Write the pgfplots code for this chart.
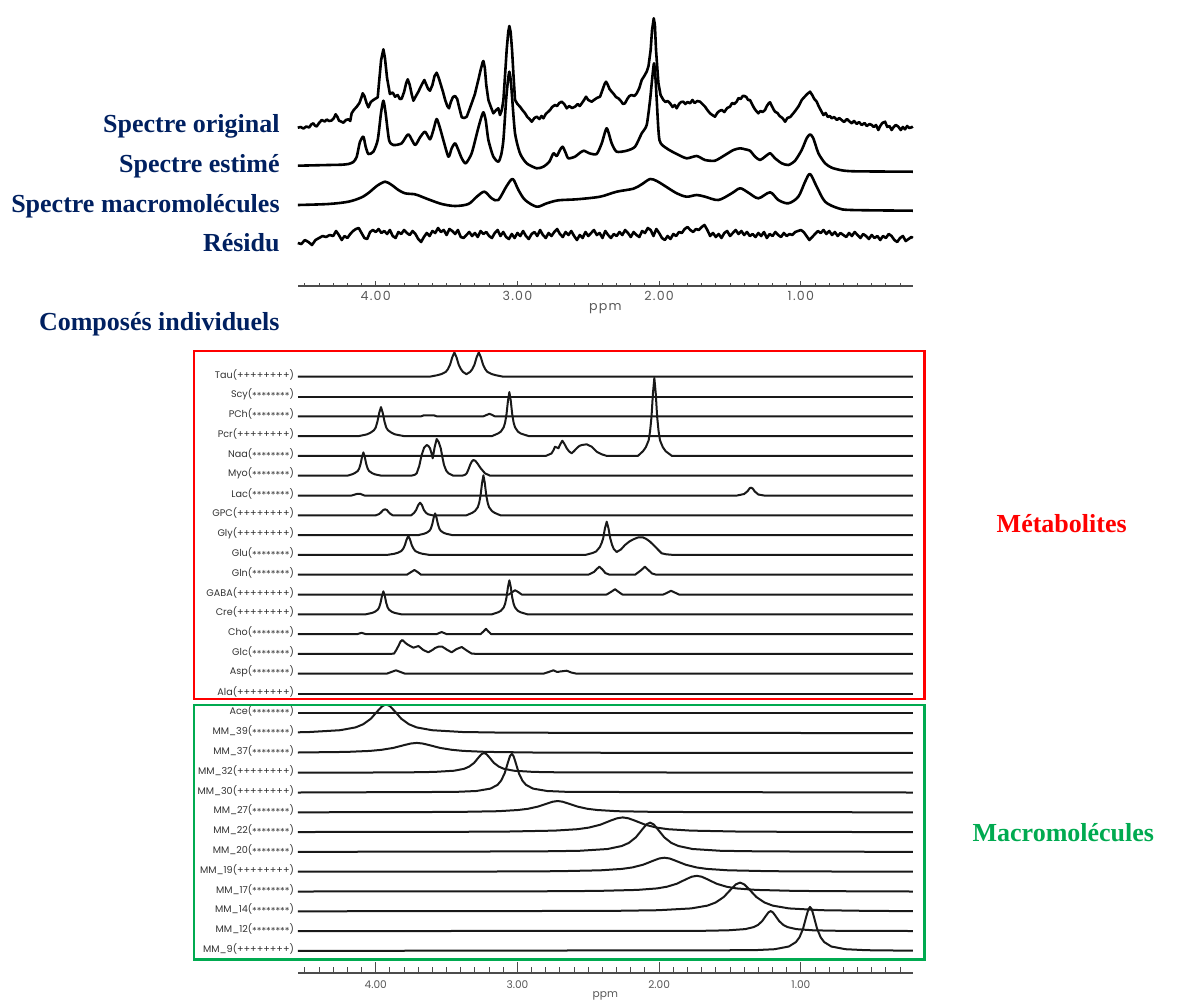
\documentclass[border=0pt]{standalone}
\usepackage{fontspec}
\setmainfont{Liberation Serif}
\newfontfamily\pop{Poppins}
\newfontfamily\popw[LetterSpace=10]{Poppins}
\usepackage{graphicx}
\usepackage{pgfplots}
\pgfplotsset{compat=1.18}
\definecolor{cnavy}{RGB}{0,32,96}
\definecolor{mred}{RGB}{255,0,0}
\definecolor{mgreen}{RGB}{0,170,80}
\newcommand{\pp}{(++++++++)}
\newcommand{\st}{(\raisebox{-0.3ex}{********})}
\newcommand{\bl}[1]{{\fontsize{13}{15}\selectfont\bfseries #1}}
\begin{document}
\begin{tikzpicture}
\useasboundingbox (0,0) rectangle (588.5pt,-500.5pt);
% ---------------- top spectra ----------------
\begin{axis}[at={(148.9pt,-142.85pt)}, anchor=south west, scale only axis,
  width=307.5pt, height=142.85pt, xmin=0.21, xmax=4.55, x dir=reverse,
  ymin=-285.7, ymax=0, axis y line=none, axis x line*=bottom, clip=false,
  xtick={1,2,3,4}, xticklabels={1.00,2.00,3.00,4.00},
  minor xtick={0.3,0.4,0.5,0.6,0.7,0.8,0.9,1.1,1.2,1.3,1.4,1.5,1.6,1.7,1.8,1.9,2.1,2.2,2.3,2.4,2.5,2.6,2.7,2.8,2.9,3.1,3.2,3.3,3.4,3.5,3.6,3.7,3.8,3.9,4.1,4.2,4.3,4.4,4.5},
  tick align=inside, major tick length=2.4pt, minor tick length=1.3pt,
  tick style={black!70, line width=0.5pt}, axis line style={black!70, line width=0.8pt},
  xticklabel style={font=\popw\fontsize{6.3}{7}\selectfont, text=black!65, anchor=center, yshift=-5pt},
  xlabel={ppm}, xlabel style={font=\popw\fontsize{6.3}{7}\selectfont, text=black!65, at={(axis description cs:0.5,0)}, anchor=center, yshift=-11.3pt},
  every axis plot/.append style={black, line width=1.3pt, line join=round, no markers, solid}]
% original
\addplot[sharp plot] coordinates {(4.55,-127.7)(4.53,-127.0)(4.51,-128.5)(4.49,-126.5)(4.47,-127.5)(4.455,-124.5)(4.44,-123.3)(4.43,-125.5)(4.417,-126.5)(4.40,-123)(4.381,-120)(4.36,-121.5)(4.345,-119.5)(4.33,-121)(4.311,-120.5)(4.295,-118)(4.283,-114.3)(4.27,-117)(4.259,-120.7)(4.245,-121.5)(4.228,-122.7)(4.21,-120)(4.193,-119.3)(4.18,-121)(4.17,-113.3)(4.155,-110)(4.134,-106.7)(4.115,-103)(4.10,-97)(4.092,-93.3)(4.08,-96)(4.065,-103)(4.052,-107.3)(4.035,-102)(4.017,-100)(4.00,-98.5)(3.986,-97.3)(3.975,-80)(3.962,-60)(3.946,-49.3)(3.935,-58)(3.92,-78)(3.90,-94)(3.88,-92.5)(3.864,-96.7)(3.845,-95)(3.83,-99)(3.817,-98.7)(3.80,-92)(3.785,-83)(3.774,-79.3)(3.76,-85)(3.745,-95)(3.734,-100.7)(3.72,-97)(3.699,-91.7)(3.68,-86)(3.665,-82)(3.657,-80)(3.645,-84)(3.63,-89)(3.617,-90.7)(3.60,-85)(3.585,-76)(3.57,-72.7)(3.555,-78)(3.54,-85)(3.525,-92)(3.51,-100)(3.495,-106)(3.483,-108.3)(3.47,-102)(3.455,-97)(3.44,-96)(3.425,-99)(3.41,-108)(3.393,-117.3)(3.375,-118)(3.358,-116.7)(3.34,-110)(3.323,-103.3)(3.30,-94)(3.29,-88)(3.276,-80)(3.26,-70)(3.245,-62)(3.24,-61)(3.23,-68)(3.22,-85)(3.205,-100)(3.19,-106)(3.17,-113.3)(3.15,-110)(3.135,-108.3)(3.123,-115)(3.11,-110)(3.099,-100)(3.085,-70)(3.076,-50)(3.065,-32)(3.057,-26)(3.048,-32)(3.038,-50)(3.028,-75)(3.017,-100)(3.00,-104)(2.982,-106.7)(2.965,-110)(2.946,-113.3)(2.93,-117)(2.915,-119)(2.899,-121.7)(2.88,-118)(2.864,-116.7)(2.845,-119)(2.83,-116)(2.817,-118.3)(2.80,-114)(2.785,-112)(2.77,-110)(2.755,-107)(2.735,-105)(2.72,-106)(2.705,-103)(2.688,-101.7)(2.67,-104)(2.652,-108.3)(2.635,-106)(2.615,-108)(2.594,-106.7)(2.575,-104)(2.56,-106)(2.546,-103.3)(2.53,-100)(2.516,-96.7)(2.50,-100)(2.476,-101.7)(2.46,-100)(2.44,-98)(2.417,-96.7)(2.40,-90)(2.385,-84)(2.375,-81.7)(2.365,-84)(2.35,-89)(2.335,-91.7)(2.32,-94)(2.305,-97)(2.288,-98.3)(2.27,-101)(2.255,-104)(2.241,-103.3)(2.225,-99)(2.21,-96)(2.194,-95)(2.175,-96)(2.158,-93.3)(2.14,-88)(2.123,-80)(2.105,-76)(2.088,-71.7)(2.075,-66)(2.06,-50)(2.05,-30)(2.038,-18.3)(2.03,-25)(2.022,-50)(2.012,-70)(2.005,-83.3)(1.99,-95)(1.97,-100)(1.955,-102)(1.94,-101)(1.923,-103.3)(1.905,-107)(1.89,-105)(1.876,-108.3)(1.86,-104)(1.845,-102)(1.829,-101.7)(1.815,-104)(1.80,-102)(1.782,-103.3)(1.765,-100)(1.75,-103)(1.73,-101)(1.711,-101.7)(1.695,-104)(1.676,-106.7)(1.66,-110)(1.641,-113.3)(1.625,-115)(1.606,-116.7)(1.59,-113)(1.575,-111)(1.558,-110)(1.54,-112)(1.52,-108)(1.50,-106.7)(1.485,-103)(1.47,-104)(1.453,-101.7)(1.44,-98)(1.425,-99)(1.41,-96)(1.398,-96)(1.385,-97)(1.372,-100)(1.359,-100)(1.345,-104)(1.33,-108)(1.315,-111)(1.30,-113.3)(1.285,-111)(1.27,-112)(1.253,-110)(1.24,-106)(1.225,-103)(1.217,-102.3)(1.205,-106)(1.19,-110)(1.182,-111.7)(1.165,-113)(1.15,-116)(1.13,-118)(1.111,-121.7)(1.095,-118)(1.075,-117)(1.053,-113.3)(1.035,-110)(1.015,-106)(0.994,-100)(0.975,-97)(0.955,-94)(0.935,-91.7)(0.92,-95)(0.905,-99)(0.888,-101.7)(0.875,-106)(0.86,-110)(0.841,-115)(0.825,-113)(0.81,-117)(0.795,-116)(0.782,-118.3)(0.765,-117)(0.745,-120)(0.73,-118)(0.712,-120)(0.695,-122)(0.675,-119)(0.66,-121)(0.641,-123.3)(0.625,-121)(0.605,-124)(0.59,-122)(0.57,-125)(0.55,-123)(0.535,-126)(0.515,-124)(0.50,-125)(0.485,-127)(0.47,-125)(0.453,-130)(0.44,-126)(0.425,-123)(0.406,-121.7)(0.39,-127)(0.375,-126)(0.359,-130)(0.345,-127)(0.33,-125)(0.312,-126.7)(0.295,-130)(0.28,-127)(0.265,-129.3)(0.25,-126)(0.235,-128)(0.218,-127.3)(0.21,-126.5)};
% estimated
\addplot[smooth, tension=0.4] coordinates {(4.55,-165.7)(4.428,-165.3)(4.334,-165)(4.24,-164.7)(4.193,-164)(4.158,-162)(4.134,-156.7)(4.111,-141.7)(4.087,-136.7)(4.071,-146.7)(4.052,-154)(4.017,-151.7)(3.986,-140)(3.963,-113.3)(3.946,-100.7)(3.93,-113.3)(3.906,-140)(3.876,-145)(3.817,-143.3)(3.77,-134.3)(3.723,-145)(3.687,-137.3)(3.652,-131.7)(3.617,-139.3)(3.593,-130)(3.57,-119)(3.546,-128.3)(3.523,-140)(3.487,-156.7)(3.464,-148.3)(3.44,-143.3)(3.417,-150)(3.393,-158.3)(3.365,-163.3)(3.323,-153.3)(3.28,-130)(3.257,-118.3)(3.24,-112.3)(3.224,-120)(3.205,-140)(3.17,-156.7)(3.135,-161.7)(3.115,-155)(3.099,-140)(3.08,-100)(3.068,-82)(3.057,-71.7)(3.046,-82)(3.038,-96.7)(3.017,-133.3)(2.982,-153.3)(2.935,-163.3)(2.864,-168.3)(2.817,-166.7)(2.775,-161.7)(2.746,-153.3)(2.723,-156)(2.70,-150)(2.681,-146.7)(2.66,-152.7)(2.641,-158.3)(2.594,-156.7)(2.558,-152.7)(2.53,-150.7)(2.492,-153.3)(2.441,-154)(2.405,-143.3)(2.37,-128.3)(2.335,-143.3)(2.30,-151.7)(2.229,-150.7)(2.17,-146.7)(2.123,-133.3)(2.088,-125)(2.064,-100)(2.05,-80)(2.036,-63.3)(2.025,-80)(2.017,-100)(1.998,-140)(1.947,-148.3)(1.876,-154)(1.806,-158.3)(1.735,-156)(1.676,-160)(1.606,-160.7)(1.535,-155)(1.476,-150)(1.429,-148.3)(1.394,-149.3)(1.359,-150.7)(1.323,-156.7)(1.288,-160)(1.253,-156.7)(1.217,-153.3)(1.182,-158.3)(1.135,-163.3)(1.088,-165)(1.041,-160.7)(0.994,-150)(0.959,-138.3)(0.935,-134.3)(0.912,-138.3)(0.876,-153.3)(0.829,-163.3)(0.782,-167.7)(0.712,-170.3)(0.618,-171.3)(0.21,-171.7)};
% macromolecules
\addplot[smooth, tension=0.5] coordinates {(4.55,-205)(4.334,-204)(4.193,-201.7)(4.099,-197.3)(4.04,-191.7)(3.993,-186)(3.934,-181.7)(3.887,-185)(3.84,-190)(3.793,-193.3)(3.723,-194.3)(3.676,-196.7)(3.629,-199.3)(3.534,-204)(3.44,-206)(3.346,-204)(3.287,-196.7)(3.233,-191.7)(3.182,-198.3)(3.135,-200)(3.076,-186)(3.033,-179)(2.993,-190)(2.946,-200)(2.864,-206.7)(2.793,-203.3)(2.711,-200.3)(2.582,-199.3)(2.417,-196.7)(2.30,-191.7)(2.182,-188.7)(2.123,-184.3)(2.064,-179)(2.017,-181)(1.97,-185)(1.876,-193.3)(1.806,-196.7)(1.735,-195)(1.676,-196.7)(1.582,-200)(1.488,-193.3)(1.429,-188.3)(1.37,-192.7)(1.30,-198.3)(1.217,-192.3)(1.159,-200)(1.088,-203.3)(1.018,-196.7)(0.97,-181.7)(0.935,-174)(0.888,-186.7)(0.829,-201.7)(0.735,-208.3)(0.641,-210)(0.21,-210.7)};
% residual
\addplot[sharp plot] coordinates {(4.55,-243)(4.525,-244)(4.50,-240)(4.475,-242)(4.45,-245)(4.425,-240)(4.40,-238)(4.375,-236)(4.35,-237)(4.325,-235)(4.30,-236)(4.28,-231)(4.26,-235)(4.24,-240)(4.22,-236)(4.20,-238)(4.18,-234)(4.16,-231)(4.14,-229)(4.12,-228)(4.10,-233)(4.08,-238)(4.06,-239)(4.04,-232)(4.02,-230)(4.00,-232)(3.98,-229)(3.96,-233)(3.94,-231)(3.92,-234)(3.90,-230)(3.88,-236)(3.86,-238)(3.84,-232)(3.82,-234)(3.80,-230)(3.78,-233)(3.76,-235)(3.74,-231)(3.72,-234)(3.70,-239)(3.68,-242)(3.66,-237)(3.64,-233)(3.62,-236)(3.60,-231)(3.58,-233)(3.56,-228)(3.54,-232)(3.52,-230)(3.50,-235)(3.48,-229)(3.46,-231)(3.44,-234)(3.42,-230)(3.40,-237)(3.38,-238)(3.36,-235)(3.34,-232)(3.32,-236)(3.30,-233)(3.28,-237)(3.26,-231)(3.24,-234)(3.22,-232)(3.20,-236)(3.18,-238)(3.16,-233)(3.14,-230)(3.12,-236)(3.10,-232)(3.08,-237)(3.06,-239)(3.04,-234)(3.02,-238)(3.00,-233)(2.98,-236)(2.96,-231)(2.94,-236)(2.92,-239)(2.90,-234)(2.88,-232)(2.86,-236)(2.84,-230)(2.82,-235)(2.80,-238)(2.78,-233)(2.76,-236)(2.74,-232)(2.72,-229)(2.70,-234)(2.68,-237)(2.66,-232)(2.64,-235)(2.62,-231)(2.60,-236)(2.58,-240)(2.56,-235)(2.54,-238)(2.52,-232)(2.50,-236)(2.48,-233)(2.46,-230)(2.44,-235)(2.42,-233)(2.40,-238)(2.38,-231)(2.36,-235)(2.34,-238)(2.32,-234)(2.30,-236)(2.28,-232)(2.26,-235)(2.24,-230)(2.22,-233)(2.20,-237)(2.18,-232)(2.16,-235)(2.14,-237)(2.12,-231)(2.10,-233)(2.08,-228)(2.06,-230)(2.04,-236)(2.02,-229)(2.00,-233)(1.98,-238)(1.96,-240)(1.94,-236)(1.92,-239)(1.90,-234)(1.88,-236)(1.86,-232)(1.84,-233)(1.82,-229)(1.80,-227)(1.78,-230)(1.76,-232)(1.74,-229)(1.72,-230)(1.70,-227)(1.68,-225)(1.66,-230)(1.64,-236)(1.62,-233)(1.60,-237)(1.58,-234)(1.56,-238)(1.54,-233)(1.52,-231)(1.50,-236)(1.48,-233)(1.46,-230)(1.44,-234)(1.42,-231)(1.40,-235)(1.38,-232)(1.36,-236)(1.34,-234)(1.32,-237)(1.30,-233)(1.28,-236)(1.26,-232)(1.24,-238)(1.22,-234)(1.20,-236)(1.18,-232)(1.16,-235)(1.14,-237)(1.12,-233)(1.10,-236)(1.08,-234)(1.06,-235)(1.04,-232)(1.02,-231)(1.00,-230)(0.98,-232)(0.96,-236)(0.94,-240)(0.92,-237)(0.90,-234)(0.88,-231)(0.86,-233)(0.84,-230)(0.82,-234)(0.80,-231)(0.78,-235)(0.76,-232)(0.74,-236)(0.72,-233)(0.70,-235)(0.68,-237)(0.66,-233)(0.64,-236)(0.62,-232)(0.60,-235)(0.58,-238)(0.56,-234)(0.54,-236)(0.52,-239)(0.50,-235)(0.48,-238)(0.46,-236)(0.44,-240)(0.42,-236)(0.40,-238)(0.38,-234)(0.36,-236)(0.34,-240)(0.32,-242)(0.30,-238)(0.28,-236)(0.26,-241)(0.24,-239)(0.22,-237)(0.21,-238)};
\end{axis}
% ---------------- individual compounds ----------------
\begin{axis}[at={(148.9pt,-486.35pt)}, anchor=south west, scale only axis,
  width=307.5pt, height=313.85pt, xmin=0.21, xmax=4.55, x dir=reverse,
  ymin=-972.7, ymax=-345, axis x line*=bottom, axis y line*=left, clip=false,
  y axis line style={draw=none}, ytick style={draw=none},
  ytick={-376.7,-396.5,-416.3,-436.1,-455.9,-475.7,-495.5,-515.3,-535.1,-554.9,-574.7,-594.5,-614.3,-634.1,-653.9,-673.7,-693.5,-713.3,-733.1,-752.9,-772.7,-792.5,-812.3,-832.1,-851.9,-871.7,-891.5,-911.3,-931.1,-950.9},
  yticklabels={{Tau\pp},{Scy\st},{PCh\st},{Pcr\pp},{Naa\st},{Myo\st},{Lac\st},{GPC\pp},{Gly\pp},{Glu\st},{Gln\st},{GABA\pp},{Cre\pp},{Cho\st},{Glc\st},{Asp\st},{Ala\pp},{Ace\st},{MM\_39\st},{MM\_37\st},{MM\_32\pp},{MM\_30\pp},{MM\_27\st},{MM\_22\st},{MM\_20\st},{MM\_19\pp},{MM\_17\st},{MM\_14\st},{MM\_12\st},{MM\_9\pp}},
  yticklabel style={font=\pop\fontsize{4.8}{6}\selectfont, text=black!80, yshift=1pt, xshift=1.6pt},
  xtick={1,2,3,4}, xticklabels={1.00,2.00,3.00,4.00},
  minor xtick={0.3,0.4,0.5,0.6,0.7,0.8,0.9,1.1,1.2,1.3,1.4,1.5,1.6,1.7,1.8,1.9,2.1,2.2,2.3,2.4,2.5,2.6,2.7,2.8,2.9,3.1,3.2,3.3,3.4,3.5,3.6,3.7,3.8,3.9,4.1,4.2,4.3,4.4,4.5},
  tick align=inside, major tick length=5.5pt, minor tick length=3pt,
  xtick style={black!70, line width=0.5pt}, x axis line style={black!70, line width=0.8pt},
  xticklabel style={font=\pop\fontsize{5.3}{6}\selectfont, text=black!65, anchor=center, yshift=-6pt},
  xlabel={ppm}, xlabel style={font=\pop\fontsize{5.3}{6}\selectfont, text=black!65, at={(axis description cs:0.5,0)}, anchor=center, yshift=-11.6pt},
  every axis plot/.append style={black!90, line width=1pt, line join=round, no markers, solid, sharp plot}]
\addplot[sharp plot] coordinates {(4.55,-376.7)(3.62,-376.7)(3.565,-375.2)(3.535,-374)(3.505,-371.8)(3.49,-369)(3.475,-364.5)(3.46,-357.3)(3.445,-352.4)(3.43,-357.3)(3.415,-364.5)(3.40,-369)(3.385,-371.8)(3.36,-374.2)(3.333,-371.8)(3.318,-369)(3.303,-364.5)(3.288,-357.3)(3.273,-352.4)(3.258,-357.3)(3.243,-364.5)(3.228,-369)(3.213,-371.8)(3.183,-374)(3.153,-375.2)(3.10,-376.7)(0.21,-376.7)};
\addplot[sharp plot] coordinates {(4.55,-396.5)(0.21,-396.5)};
\addplot[sharp plot] coordinates {(4.55,-416.3)(3.68,-416.3)(3.66,-415.3)(3.59,-415.3)(3.57,-416.3)(3.24,-416.3)(3.215,-414.8)(3.198,-413.8)(3.18,-414.8)(3.16,-416.3)(0.21,-416.3)};
\addplot[sharp plot] coordinates {(4.55,-436.1)(4.12,-436.1)(4.063,-434.4)(4.038,-432.8)(4.013,-430.3)(4.0,-427.5)(3.988,-421.6)(3.9755,-412.9)(3.963,-407.1)(3.9505,-412.9)(3.938,-421.6)(3.926,-427.5)(3.913,-430.3)(3.888,-432.8)(3.863,-434.4)(3.80,-436.1)(3.18,-436.1)(3.137,-433.5)(3.117,-431.6)(3.097,-427.3)(3.087,-422.6)(3.077,-414.1)(3.067,-400.9)(3.057,-392.1)(3.047,-400.9)(3.037,-414.1)(3.027,-422.6)(3.017,-427.3)(2.997,-431.6)(2.977,-433.5)(2.92,-436.1)(0.21,-436.1)};
\addplot[sharp plot] coordinates {(4.55,-455.9)(2.80,-455.9)(2.76,-453.5)(2.745,-450)(2.735,-446.7)(2.722,-447.5)(2.711,-448.3)(2.697,-444)(2.683,-440.7)(2.668,-444)(2.652,-448.3)(2.635,-451.5)(2.617,-453.3)(2.60,-451)(2.582,-448.3)(2.564,-446)(2.546,-445)(2.511,-444.3)(2.476,-446.7)(2.441,-451.7)(2.405,-454.3)(2.37,-455.9)(2.15,-455.9)(2.114,-451.2)(2.094,-447.2)(2.074,-440.3)(2.064,-431.2)(2.054,-416.9)(2.044,-393.5)(2.034,-377.9)(2.024,-393.5)(2.014,-416.9)(2.004,-431.2)(1.994,-440.3)(1.974,-447.2)(1.954,-451.2)(1.91,-455.9)(0.21,-455.9)};
\addplot[sharp plot] coordinates {(4.55,-475.7)(4.2,-475.7)(4.167,-474.3)(4.147,-473)(4.127,-471)(4.117,-468.6)(4.107,-464)(4.097,-457.1)(4.087,-452.4)(4.077,-457.1)(4.067,-464)(4.057,-468.6)(4.047,-471)(4.027,-473)(4.007,-474.3)(3.96,-475.7)(3.75,-475.7)(3.725,-474.8)(3.711,-473.3)(3.693,-466)(3.676,-455)(3.658,-447.5)(3.64,-445)(3.628,-446)(3.617,-448.3)(3.607,-453)(3.598,-458.3)(3.584,-447)(3.57,-439)(3.556,-442)(3.541,-448.3)(3.53,-457)(3.518,-465)(3.503,-470.5)(3.487,-473.3)(3.452,-475.7)(3.385,-475.5)(3.37,-474.8)(3.358,-473.3)(3.346,-469.5)(3.334,-465)(3.322,-461.5)(3.311,-460)(3.297,-460.8)(3.283,-463.3)(3.259,-468.3)(3.229,-473.3)(3.193,-475.7)(0.21,-475.7)};
\addplot[sharp plot] coordinates {(4.55,-495.5)(4.17,-495.5)(4.135,-494)(4.11,-493.8)(4.08,-495.5)(1.45,-495.5)(1.40,-494)(1.375,-491)(1.36,-488)(1.351,-487.7)(1.34,-488.5)(1.325,-491.5)(1.30,-494.5)(1.26,-495.5)(0.21,-495.5)};
\addplot[sharp plot] coordinates {(4.55,-515.3)(4.0,-515.3)(3.975,-514)(3.96,-512)(3.947,-510)(3.934,-509.3)(3.921,-510)(3.91,-512)(3.895,-514)(3.88,-515.3)(3.75,-515.3)(3.73,-513)(3.715,-510)(3.70,-505)(3.687,-502.7)(3.674,-505)(3.66,-510)(3.645,-512.8)(3.63,-514.3)(3.60,-515.3)(3.36,-515.3)(3.32,-512.9)(3.30,-511)(3.28,-507.3)(3.27,-502.8)(3.26,-495.3)(3.25,-483.3)(3.24,-475.3)(3.23,-483.3)(3.22,-495.3)(3.21,-502.8)(3.20,-507.3)(3.18,-511)(3.16,-512.9)(3.12,-515.3)(0.21,-515.3)};
\addplot[sharp plot] coordinates {(4.55,-535.1)(3.70,-535.1)(3.661,-533.8)(3.641,-532.8)(3.621,-530.8)(3.611,-528.6)(3.601,-524.2)(3.591,-517.7)(3.581,-513.4)(3.571,-517.7)(3.561,-524.2)(3.551,-528.6)(3.541,-530.8)(3.521,-532.8)(3.501,-533.8)(3.46,-535.1)(0.21,-535.1)};
\addplot[sharp plot] coordinates {(4.55,-554.9)(3.92,-554.9)(3.87,-553.8)(3.845,-552.8)(3.82,-551.1)(3.807,-548.9)(3.795,-545.4)(3.7825,-539.7)(3.77,-535.9)(3.7575,-539.7)(3.745,-545.4)(3.732,-548.9)(3.72,-551.1)(3.695,-552.8)(3.67,-553.8)(3.62,-554.9)(2.52,-554.9)(2.47,-553)(2.445,-551.5)(2.42,-547.3)(2.407,-543.5)(2.395,-538.3)(2.3825,-528.3)(2.37,-521.7)(2.3575,-528.3)(2.345,-538.3)(2.332,-545)(2.32,-549)(2.30,-552)(2.27,-549.5)(2.241,-545)(2.21,-541.5)(2.182,-539.3)(2.15,-537.5)(2.116,-537.3)(2.09,-539)(2.064,-541.7)(2.04,-545)(2.017,-548.3)(1.995,-551.5)(1.982,-553.3)(1.95,-554.3)(1.90,-554.9)(0.21,-554.9)};
\addplot[sharp plot] coordinates {(4.55,-574.7)(3.78,-574.7)(3.75,-572)(3.727,-570)(3.705,-572)(3.68,-574.7)(2.50,-574.7)(2.46,-572)(2.44,-569)(2.422,-566.7)(2.40,-569.5)(2.38,-573)(2.35,-574.7)(2.17,-574.7)(2.13,-570.5)(2.10,-566.7)(2.08,-569.5)(2.05,-573.5)(2.02,-574.7)(0.21,-574.7)};
\addplot[sharp plot] coordinates {(4.55,-594.5)(3.06,-594.5)(3.035,-592)(3.017,-590.2)(2.995,-592)(2.97,-594.5)(2.37,-594.5)(2.335,-591.5)(2.311,-589.2)(2.29,-591.5)(2.26,-594.5)(1.97,-594.5)(1.94,-592.5)(1.916,-590.8)(1.89,-592.5)(1.86,-594.5)(0.21,-594.5)};
\addplot[sharp plot] coordinates {(4.55,-614.3)(4.07,-614.3)(4.026,-612.9)(4.006,-611.8)(3.986,-609.7)(3.976,-607.4)(3.966,-602.8)(3.956,-595.9)(3.946,-591.3)(3.936,-595.9)(3.926,-602.8)(3.916,-607.4)(3.906,-609.7)(3.886,-611.8)(3.866,-612.9)(3.82,-614.3)(3.18,-614.3)(3.137,-612.3)(3.117,-610.8)(3.097,-607.5)(3.087,-603.8)(3.077,-597.3)(3.067,-587.1)(3.057,-580.3)(3.047,-587.1)(3.037,-597.3)(3.027,-603.8)(3.017,-607.5)(2.997,-610.8)(2.977,-612.3)(2.93,-614.3)(0.21,-614.3)};
\addplot[sharp plot] coordinates {(4.55,-634.1)(4.13,-634.1)(4.10,-632.8)(4.07,-634.1)(3.57,-634.1)(3.535,-632)(3.50,-634.1)(3.26,-634.1)(3.24,-631.5)(3.222,-628.8)(3.205,-631.5)(3.185,-634.1)(0.21,-634.1)};
\addplot[sharp plot] coordinates {(4.55,-653.9)(3.90,-653.9)(3.871,-653.6)(3.855,-650)(3.84,-646)(3.825,-641.5)(3.812,-640)(3.79,-643)(3.77,-645)(3.734,-647.7)(3.699,-646)(3.664,-650)(3.629,-652.3)(3.60,-650)(3.581,-648)(3.555,-646.5)(3.53,-646.7)(3.494,-650)(3.464,-652.3)(3.429,-649)(3.393,-647)(3.358,-650.5)(3.323,-653.6)(3.28,-653.9)(0.21,-653.9)};
\addplot[sharp plot] coordinates {(4.55,-673.7)(3.923,-673.7)(3.89,-672)(3.857,-670.3)(3.825,-672)(3.793,-673.7)(2.817,-673.7)(2.78,-672)(2.746,-670.3)(2.72,-672)(2.699,-671.5)(2.652,-670.7)(2.62,-672.5)(2.582,-673.7)(0.21,-673.7)};
\addplot[sharp plot] coordinates {(4.55,-693.5)(0.21,-693.5)};
\addplot[sharp plot] coordinates {(4.55,-713.3)(0.21,-713.3)};
% macromolecules
\addplot[sharp plot] coordinates {(4.55,-732.3)(4.467,-732.0)(4.251,-730.2)(4.143,-727.4)(4.089,-724.3)(4.035,-718.8)(3.981,-710.1)(3.954,-706.1)(3.927,-704.4)(3.900,-706.1)(3.873,-710.1)(3.819,-718.8)(3.765,-724.3)(3.711,-727.4)(3.603,-730.2)(3.387,-732.0)(3.063,-732.7)(0.21,-733.1)};
\addplot[sharp plot] coordinates {(4.55,-752.5)(4.206,-751.9)(4.041,-750.9)(3.959,-749.8)(3.876,-747.9)(3.794,-744.9)(3.752,-743.5)(3.711,-742.9)(3.670,-743.5)(3.628,-744.9)(3.546,-747.9)(3.463,-749.8)(3.381,-750.9)(3.216,-751.9)(2.886,-752.5)(2.391,-752.75)(0.21,-752.9)};
\addplot[sharp plot] coordinates {(4.55,-772.7)(3.796,-772.4)(3.586,-771.9)(3.446,-770.7)(3.376,-768.8)(3.341,-766.6)(3.306,-762.9)(3.271,-756.9)(3.2535,-754.2)(3.236,-753.0)(3.2185,-754.2)(3.201,-756.9)(3.166,-762.9)(3.131,-766.6)(3.096,-768.8)(3.026,-770.7)(2.886,-771.9)(2.676,-772.4)(0.21,-772.7)};
\addplot[sharp plot] coordinates {(4.55,-792.5)(3.44,-791.9)(3.29,-791.0)(3.19,-788.6)(3.14,-784.8)(3.115,-780.6)(3.09,-773.2)(3.065,-761.5)(3.0525,-756.1)(3.040,-753.8)(3.0275,-756.1)(3.015,-761.5)(2.99,-773.2)(2.965,-780.6)(2.94,-784.8)(2.89,-788.6)(2.79,-791.0)(2.64,-791.9)(0.21,-792.5)};
\addplot[sharp plot] coordinates {(4.55,-812.3)(3.836,-812.1)(3.416,-811.9)(3.136,-811.2)(2.996,-810.0)(2.926,-808.8)(2.856,-806.6)(2.786,-803.3)(2.751,-801.7)(2.716,-801.0)(2.681,-801.7)(2.646,-803.3)(2.576,-806.6)(2.506,-808.8)(2.436,-810.0)(2.296,-811.2)(2.016,-811.9)(1.596,-812.1)(0.21,-812.3)};
\addplot[sharp plot] coordinates {(4.55,-832.0)(3.537,-831.9)(3.057,-831.5)(2.737,-830.6)(2.577,-829.2)(2.497,-827.6)(2.417,-824.8)(2.337,-820.3)(2.297,-818.3)(2.257,-817.4)(2.217,-818.3)(2.177,-820.3)(2.097,-824.8)(2.017,-827.6)(1.937,-829.2)(1.777,-830.6)(1.457,-831.5)(0.977,-831.9)(0.21,-832.1)};
\addplot[sharp plot] coordinates {(4.55,-851.85)(2.864,-851.4)(2.564,-850.8)(2.364,-849.0)(2.264,-846.0)(2.214,-842.9)(2.164,-837.3)(2.114,-828.5)(2.089,-824.3)(2.064,-822.6)(2.039,-824.3)(2.014,-828.5)(1.964,-837.3)(1.914,-842.9)(1.864,-846.0)(1.764,-849.0)(1.564,-850.8)(1.264,-851.4)(0.21,-851.9)};
\addplot[sharp plot] coordinates {(4.55,-871.7)(3.163,-871.5)(2.713,-871.2)(2.413,-870.3)(2.263,-868.9)(2.188,-867.4)(2.113,-864.7)(2.038,-860.5)(2.0005,-858.5)(1.963,-857.7)(1.9255,-858.5)(1.888,-860.5)(1.813,-864.7)(1.738,-867.4)(1.663,-868.9)(1.513,-870.3)(1.213,-871.2)(0.763,-871.5)(0.21,-871.7)};
\addplot[sharp plot] coordinates {(4.55,-891.5)(2.855,-891.3)(2.435,-890.9)(2.155,-889.9)(2.015,-888.4)(1.945,-886.7)(1.875,-883.7)(1.805,-878.9)(1.770,-876.7)(1.735,-875.8)(1.700,-876.7)(1.665,-878.9)(1.595,-883.7)(1.525,-886.7)(1.455,-888.4)(1.315,-889.9)(1.035,-890.9)(0.615,-891.3)(0.21,-891.5)};
\addplot[sharp plot] coordinates {(4.55,-911.3)(2.349,-910.9)(2.004,-910.2)(1.774,-908.4)(1.659,-905.6)(1.6015,-902.5)(1.544,-897.0)(1.4865,-888.3)(1.458,-884.3)(1.429,-882.6)(1.400,-884.3)(1.3715,-888.3)(1.314,-897.0)(1.2565,-902.5)(1.199,-905.6)(1.084,-908.4)(0.854,-910.2)(0.509,-910.9)(0.21,-911.1)};
\addplot[sharp plot] coordinates {(4.55,-931.1)(1.693,-930.8)(1.513,-930.3)(1.393,-929.1)(1.333,-927.1)(1.303,-925.0)(1.273,-921.1)(1.243,-915.1)(1.228,-912.3)(1.213,-911.1)(1.198,-912.3)(1.183,-915.1)(1.153,-921.1)(1.123,-925.0)(1.093,-927.1)(1.033,-929.1)(0.913,-930.3)(0.733,-930.8)(0.21,-931.0)};
\addplot[sharp plot] coordinates {(4.55,-950.9)(1.335,-950.2)(1.185,-949.2)(1.085,-946.5)(1.035,-942.1)(1.010,-937.4)(0.985,-928.9)(0.960,-915.7)(0.9475,-909.5)(0.935,-906.9)(0.9225,-909.5)(0.910,-915.7)(0.885,-928.9)(0.860,-937.4)(0.835,-942.1)(0.785,-946.5)(0.685,-949.2)(0.535,-950.2)(0.21,-950.7)};
\end{axis}
% frames
\fill[white] (96pt,-350.3pt) rectangle (463pt,-352pt);
\draw[mred, line width=1.4pt] (97pt,-175.5pt) rectangle (462.15pt,-349.5pt);
\draw[mgreen, line width=1.4pt] (97pt,-352.5pt) rectangle (462.15pt,-479.65pt);
% labels
\begin{scope}[every node/.style={inner sep=0pt}]
\node[anchor=base east, text=cnavy] at (140pt,-66.25pt) {\bl{Spectre original}};
\node[anchor=base east, text=cnavy] at (140pt,-86.35pt) {\bl{Spectre estimé}};
\node[anchor=base east, text=cnavy] at (140pt,-106.15pt) {\bl{Spectre macromolécules}};
\node[anchor=base east, text=cnavy] at (140pt,-125.85pt) {\bl{Résidu}};
\node[anchor=base east, text=cnavy] at (140pt,-165pt) {\bl{Composés individuels}};
\node[anchor=base, text=mred] at (530.85pt,-266pt) {\bl{Métabolites}};
\node[anchor=base, text=mgreen] at (531.65pt,-420.85pt) {\bl{Macromolécules}};
\end{scope}
\end{tikzpicture}
\end{document}
